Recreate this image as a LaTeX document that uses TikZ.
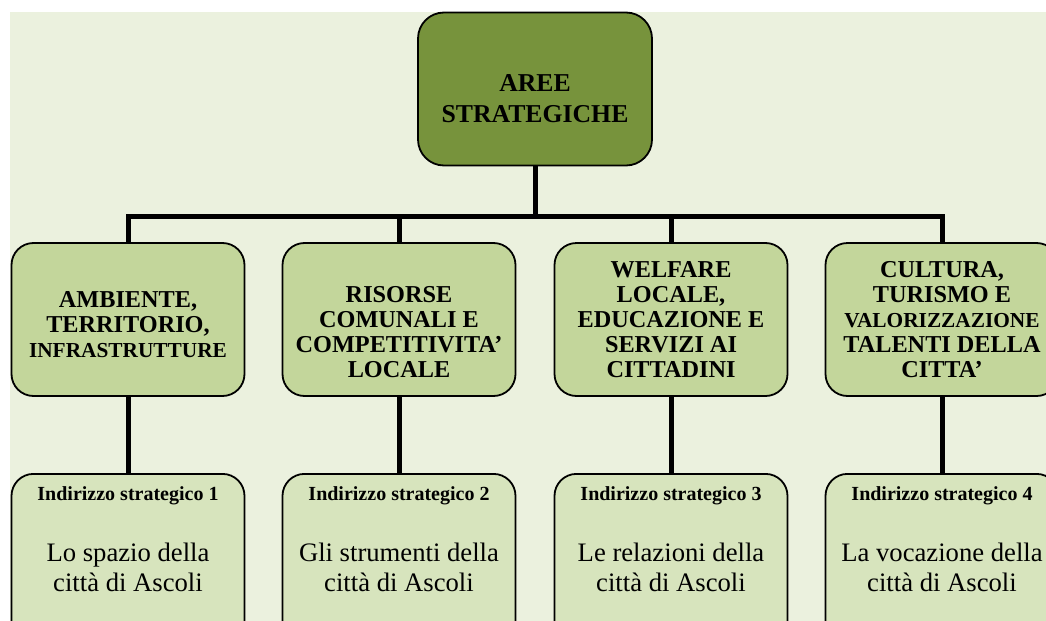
\documentclass[tikz,border=0pt]{standalone}
\usepackage{fontspec}
\setmainfont{Liberation Serif}
\usepackage{tikz}
\usetikzlibrary{calc}
\newcommand{\px}{0.75pt}
\newcommand{\linkwidth}{5*\px}
\newcommand{\boxline}{1.8*\px}
\definecolor{topgreen}{HTML}{77933C}
\definecolor{areagreen}{HTML}{C3D69B}
\definecolor{indgreen}{HTML}{D7E4BD}
\definecolor{bggreen}{HTML}{EBF1DE}
\tikzset{
  topbox/.style={draw=black, line width=\boxline, fill=topgreen, rounded corners=26*\px,
    minimum width=234*\px, minimum height=153*\px, text width=216*\px, inner xsep=9*\px,
    inner ysep=0pt, align=flush center, font=\bfseries\fontsize{19.3}{23.25}\selectfont},
  areabox/.style={draw=black, line width=\boxline, fill=areagreen, rounded corners=22*\px,
    minimum width=233*\px, minimum height=153*\px, text width=215*\px, inner xsep=9*\px,
    inner ysep=0pt, align=flush center, font=\bfseries\fontsize{18.2}{18.75}\selectfont},
  indbox/.style={draw=black, line width=\boxline, fill=indgreen, rounded corners=22*\px,
    anchor=north, minimum width=233*\px, text width=215*\px, inner xsep=9*\px,
    inner ysep=0pt, text height=20.25pt, text depth=110pt, align=flush center,
    font=\fontsize{20}{22.5}\selectfont},
  link/.style={draw=black, line width=\linkwidth, line join=miter},
}
\newcommand{\arealong}{\fontsize{16}{18.75}\selectfont}
\newcommand{\indhead}{\fontsize{15}{18}\selectfont\bfseries}

\begin{document}
\begin{tikzpicture}[x=0.75pt, y=-0.75pt]
\useasboundingbox (0,0) rectangle (1046,621);
\clip (0,0) rectangle (1046,621);
\fill[bggreen] (10,12) rectangle (1046,621);
%aree
\node[topbox, text height=27.75pt] (top) at (535,89) {AREE\\STRATEGICHE};
\node[areabox, text height=20.25pt] (a1) at (128,319.5) {AMBIENTE,\\TERRITORIO,\\{\arealong INFRASTRUTTURE}};
\node[areabox, text height=31.5pt] (a2) at (399,319.5) {RISORSE\\COMUNALI E\\COMPETITIVITA'\\LOCALE};
\node[areabox] (a3) at (671,319.5) {WELFARE\\LOCALE,\\EDUCAZIONE E\\SERVIZI AI\\CITTADINI};
\node[areabox] (a4) at (942,319.5) {CULTURA,\\TURISMO E\\{\arealong VALORIZZAZIONE}\\TALENTI DELLA\\CITTA'};
%indirizzi
\node[indbox] (i1) at (128,473) {{\indhead Indirizzo strategico 1}\\[23pt]Lo spazio della\\città di Ascoli};
\node[indbox] (i2) at (399,473) {{\indhead Indirizzo strategico 2}\\[23pt]Gli strumenti della\\città di Ascoli};
\node[indbox] (i3) at (671,473) {{\indhead Indirizzo strategico 3}\\[23pt]Le relazioni della\\città di Ascoli};
\node[indbox] (i4) at (942,473) {{\indhead Indirizzo strategico 4}\\[23pt]La vocazione della\\città di Ascoli};
%links
\coordinate (bar) at (535,216);
\draw[link] (top.south) -- (bar);
\draw[link] (a1.north) |- (bar) -| (a4.north);
\draw[link] (a2.north) -- (a2.north |- bar);
\draw[link] (a3.north) -- (a3.north |- bar);
\draw[link] (a1.south) -- (i1.north);
\draw[link] (a2.south) -- (i2.north);
\draw[link] (a3.south) -- (i3.north);
\draw[link] (a4.south) -- (i4.north);
\end{tikzpicture}
\end{document}
